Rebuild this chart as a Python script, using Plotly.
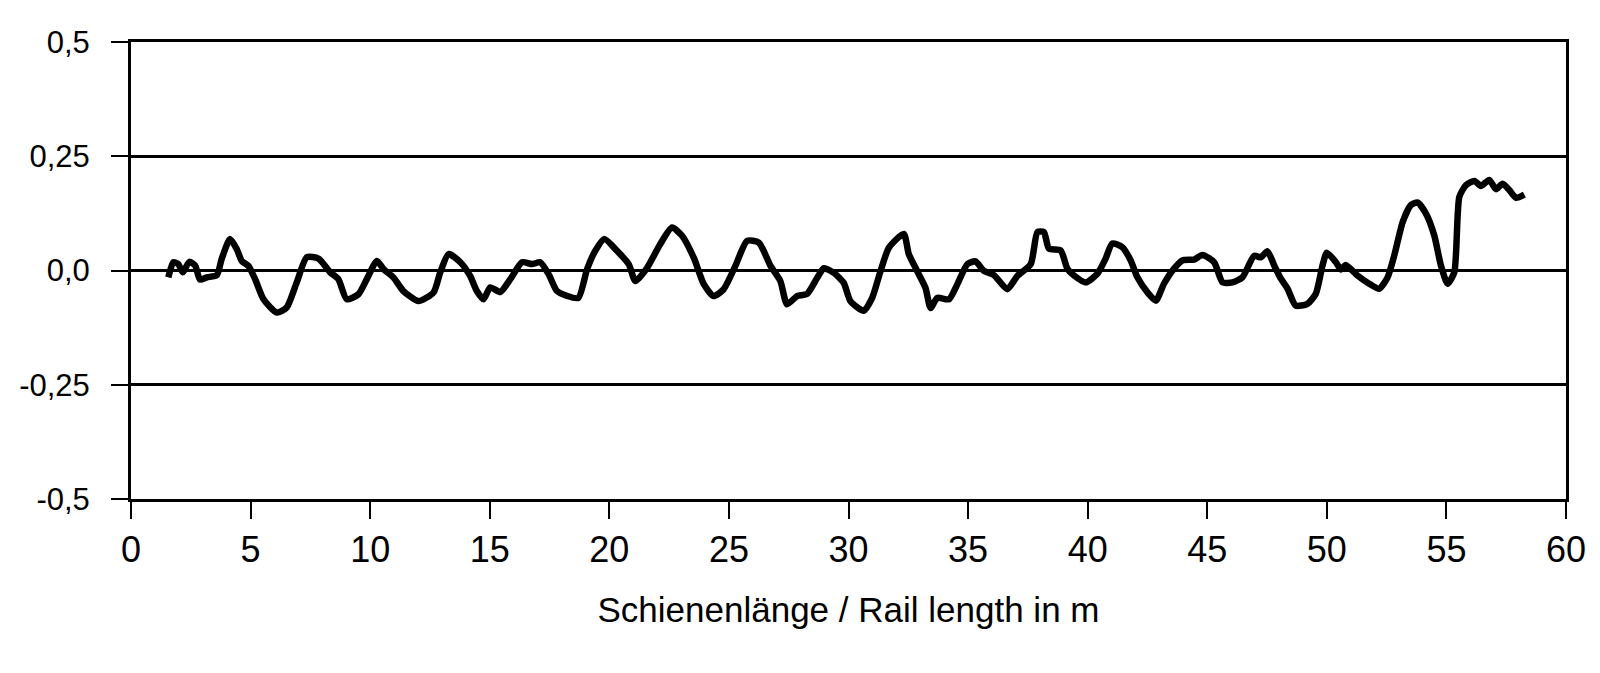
import plotly.graph_objects as go

# Rail length (m) and deviation values
rail_length_m = [
    1.56, 1.77, 1.98, 2.16, 2.44, 2.68, 2.89, 3.17, 3.59, 3.79, 4.14, 4.42, 4.63, 4.91,
    5.19, 5.54, 6.10, 6.51, 6.93, 7.35, 7.84, 8.33, 8.67, 9.02, 9.51, 9.86, 10.28, 10.56,
    10.97, 11.39, 12.02, 12.65, 12.93, 13.28, 13.77, 14.18, 14.46, 14.74, 15.02, 15.44,
    15.86, 16.35, 16.77, 17.11, 17.46, 17.81, 18.20, 18.70, 19.07, 19.41, 19.79, 20.32,
    20.81, 21.09, 21.58, 22.13, 22.62, 23.04, 23.53, 23.95, 24.36, 24.78, 25.27, 25.76,
    26.25, 26.74, 27.15, 27.43, 27.85, 28.27, 28.69, 28.97, 29.39, 29.80, 30.08, 30.64,
    30.99, 31.34, 31.69, 32.31, 32.52, 32.87, 33.22, 33.43, 33.71, 34.20, 34.55, 34.97,
    35.31, 35.66, 36.08, 36.64, 37.06, 37.62, 37.90, 38.17, 38.38, 38.87, 39.15, 39.43,
    39.92, 40.41, 40.75, 41.03, 41.45, 41.80, 42.08, 42.50, 42.85, 43.19, 43.61, 43.96,
    44.45, 44.80, 45.29, 45.64, 46.05, 46.47, 46.96, 47.24, 47.52, 47.80, 48.08, 48.36,
    48.70, 49.19, 49.54, 49.82, 50.00, 50.38, 50.59, 50.79, 51.28, 51.77, 52.19, 52.54,
    52.82, 53.17, 53.51, 53.79, 54.14, 54.49, 54.77, 55.05, 55.33, 55.54, 55.82, 56.17,
    56.44, 56.79, 57.07, 57.35, 57.63, 57.91, 58.26,
]
deviation = [
    -0.015, 0.018, 0.014, -0.004, 0.019, 0.011, -0.020, -0.015, -0.010, 0.025, 0.069, 0.047, 0.021, 0.010,
    -0.019, -0.063, -0.092, -0.081, -0.026, 0.029, 0.026, -0.004, -0.019, -0.063, -0.052, -0.019, 0.021, 0.003,
    -0.015, -0.045, -0.067, -0.048, -0.004, 0.036, 0.018, -0.012, -0.045, -0.063, -0.037, -0.047,
    -0.019, 0.018, 0.014, 0.018, -0.008, -0.045, -0.055, -0.060, 0.003, 0.043, 0.069, 0.043,
    0.014, -0.023, 0.006, 0.058, 0.094, 0.076, 0.028, -0.030, -0.056, -0.041, 0.010, 0.065,
    0.061, 0.010, -0.023, -0.074, -0.056, -0.051, -0.016, 0.005, -0.005, -0.027, -0.067, -0.088,
    -0.060, -0.001, 0.050, 0.080, 0.036, -0.001, -0.038, -0.082, -0.060, -0.063, -0.030, 0.014,
    0.020, -0.001, -0.010, -0.041, -0.012, 0.014, 0.084, 0.084, 0.048, 0.044, 0.004, -0.011,
    -0.026, -0.007, 0.026, 0.059, 0.051, 0.022, -0.015, -0.048, -0.066, -0.029, 0.004, 0.022,
    0.024, 0.034, 0.018, -0.026, -0.026, -0.015, 0.032, 0.029, 0.042, 0.011, -0.018, -0.040,
    -0.077, -0.073, -0.051, 0.011, 0.039, 0.018, 0.002, 0.012, -0.011, -0.029, -0.040, -0.015,
    0.033, 0.106, 0.143, 0.149, 0.125, 0.077, 0.011, -0.029, -0.004, 0.161, 0.187, 0.196,
    0.185, 0.198, 0.178, 0.190, 0.176, 0.159, 0.166,
]

x_tick_vals = [0, 5, 10, 15, 20, 25, 30, 35, 40, 45, 50, 55, 60]
y_tick_vals = [0.5, 0.25, 0.0, -0.25, -0.5]
y_tick_text = ["0,5", "0,25", "0,0", "-0,25", "-0,5"]
x_title = "Schienenlänge / Rail length in m"

fig = go.Figure()
fig.add_trace(go.Scatter(
    x=rail_length_m, y=deviation, mode="lines",
    line=dict(color="black", width=6.5, shape="spline", smoothing=0.6),
    showlegend=False, hoverinfo="skip",
))

# page body has an 8px default margin, so the figure is sized to fit the window
fig.update_layout(
    width=1592, height=665,
    margin=dict(l=123, r=34, t=34, b=174, autoexpand=False),
    paper_bgcolor="white", plot_bgcolor="white",
    font=dict(family="Liberation Sans, Arial, sans-serif", color="black"),
    showlegend=False,
)
fig.update_xaxes(
    range=[0, 60], tickvals=x_tick_vals, ticks="outside", ticklen=17, tickwidth=2,
    tickcolor="black", showline=True, linewidth=3, linecolor="black", mirror=True,
    showgrid=False, zeroline=False, tickfont=dict(size=36), ticklabelstandoff=0,
    automargin=False,
    title=dict(text=x_title, font=dict(size=35), standoff=29),
)
fig.update_yaxes(
    range=[-0.5, 0.5], tickvals=y_tick_vals, ticktext=y_tick_text, ticks="outside",
    ticklen=17, tickwidth=2, tickcolor="black", showline=True, linewidth=3,
    linecolor="black", mirror=True, showgrid=True, gridcolor="black", gridwidth=2.5,
    zeroline=True, zerolinecolor="black", zerolinewidth=2.5, automargin=False,
    tickfont=dict(size=31), ticklabelstandoff=15,
)

fig.write_html("out.html")
